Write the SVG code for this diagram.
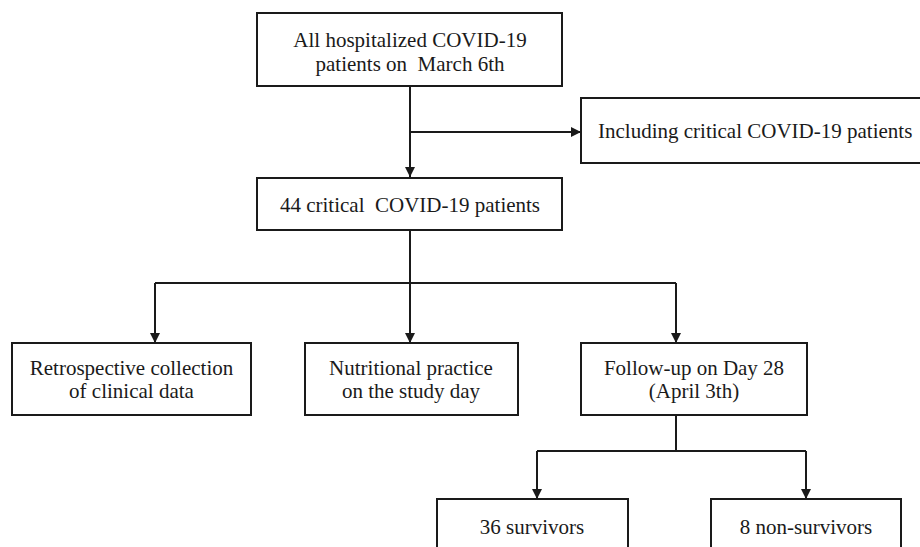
<svg xmlns="http://www.w3.org/2000/svg" width="920" height="547" viewBox="0 0 920 547">
  <style>
    .box { fill: #ffffff; stroke: #1a1a1a; stroke-width: 2; }
    .lbl { font-family: "Liberation Serif", "Times New Roman", serif; font-size: 21px; fill: #1a1a1a; text-anchor: middle; white-space: pre; }
    .conn { fill: none; stroke: #1a1a1a; stroke-width: 2; }
  </style>
  <defs>
    <marker id="arrow" markerUnits="userSpaceOnUse" markerWidth="11" markerHeight="11" refX="10" refY="5" orient="auto">
      <path d="M0,0 L10,5 L0,10 z" fill="#1a1a1a"/>
    </marker>
  </defs>
  <rect width="920" height="547" fill="#ffffff"/>

  <g id="connectors">
    <path class="conn" d="M410,86 V177" marker-end="url(#arrow)"/>
    <path class="conn" d="M410,132 H581" marker-end="url(#arrow)"/>
    <path class="conn" d="M410,230 V283"/>
    <path class="conn" d="M155,283 H676"/>
    <path class="conn" d="M155,283 V343" marker-end="url(#arrow)"/>
    <path class="conn" d="M410,283 V343" marker-end="url(#arrow)"/>
    <path class="conn" d="M676,283 V343" marker-end="url(#arrow)"/>
    <path class="conn" d="M676,415 V451"/>
    <path class="conn" d="M537,451 H806"/>
    <path class="conn" d="M537,451 V499" marker-end="url(#arrow)"/>
    <path class="conn" d="M806,451 V499" marker-end="url(#arrow)"/>
  </g>

  <g id="node-all">
    <rect class="box" x="257" y="13" width="305" height="73"/>
    <text class="lbl" x="410" y="47">All hospitalized COVID-19</text>
    <text class="lbl" x="410" y="71">patients on  March 6th</text>
  </g>

  <g id="node-including">
    <rect class="box" x="581" y="98" width="350" height="65"/>
    <text class="lbl" x="598" y="138" style="text-anchor:start">Including critical COVID-19 patients</text>
  </g>

  <g id="node-critical">
    <rect class="box" x="257" y="178" width="305" height="52"/>
    <text class="lbl" x="410" y="212">44 critical  COVID-19 patients</text>
  </g>

  <g id="node-retro">
    <rect class="box" x="12" y="343" width="239" height="72"/>
    <text class="lbl" x="131.5" y="375">Retrospective collection</text>
    <text class="lbl" x="131.5" y="398">of clinical data</text>
  </g>

  <g id="node-nutrition">
    <rect class="box" x="305" y="343" width="213" height="72"/>
    <text class="lbl" x="411" y="375">Nutritional practice</text>
    <text class="lbl" x="411" y="398">on the study day</text>
  </g>

  <g id="node-followup">
    <rect class="box" x="581" y="343" width="226" height="72"/>
    <text class="lbl" x="694" y="375">Follow-up on Day 28</text>
    <text class="lbl" x="694" y="398">(April 3th)</text>
  </g>

  <g id="node-survivors">
    <rect class="box" x="437" y="499" width="191" height="70"/>
    <text class="lbl" x="532" y="534">36 survivors</text>
  </g>

  <g id="node-nonsurvivors">
    <rect class="box" x="711" y="499" width="190" height="70"/>
    <text class="lbl" x="806" y="534">8 non-survivors</text>
  </g>
</svg>
